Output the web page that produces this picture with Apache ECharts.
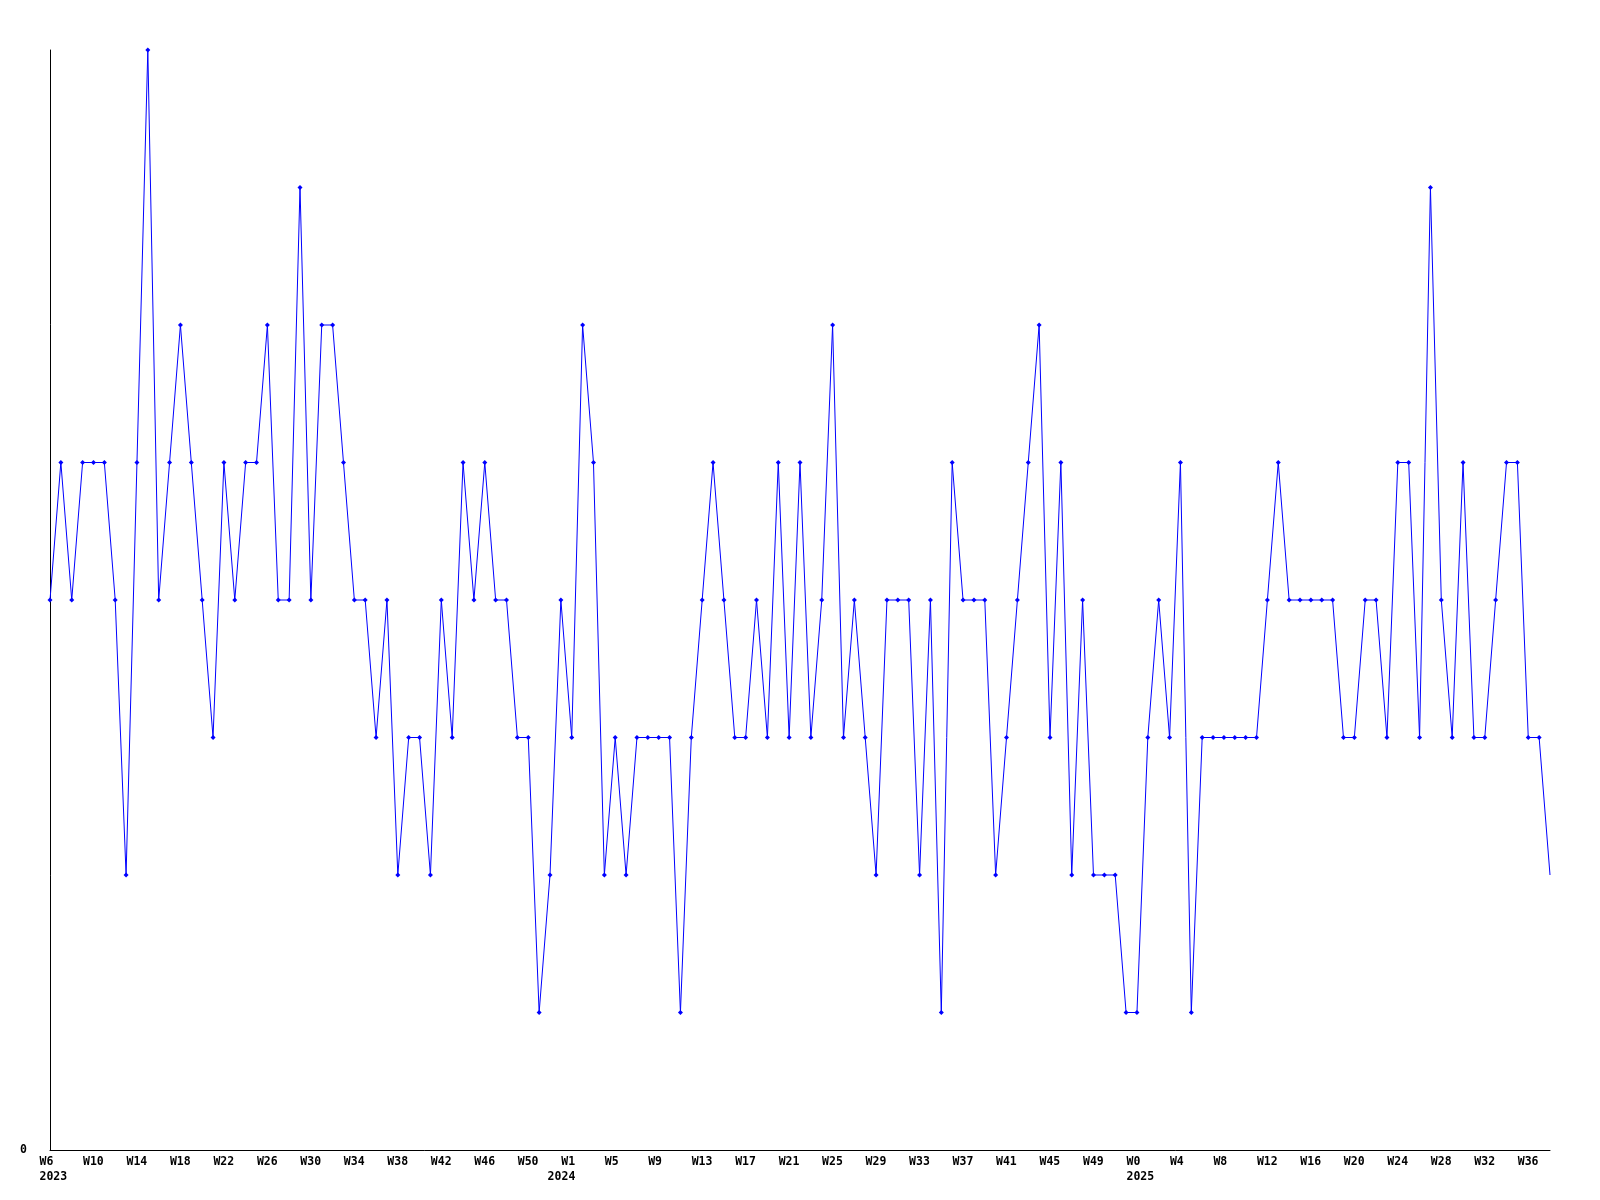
<!DOCTYPE html>
<html>
<head>
<meta charset="utf-8">
<script src="https://cdn.jsdelivr.net/npm/echarts@6/dist/echarts.min.js"></script>
<style>
  html, body { margin: 0; padding: 0; background: #fff; }
  #chart { width: 1600px; height: 1200px; }
</style>
</head>
<body>
<div id="chart"></div>
<script>
// weekly counts, first point = 2023 W6
var values = [
  4, 5, 4, 5, 5, 5, 4, 2, 5, 8,
  4, 5, 6, 5, 4, 3, 5, 4, 5, 5,
  6, 4, 4, 7, 4, 6, 6, 5, 4, 4,
  3, 4, 2, 3, 3, 2, 4, 3, 5, 4,
  5, 4, 4, 3, 3, 1, 2, 4, 3, 6,
  5, 2, 3, 2, 3, 3, 3, 3, 1, 3,
  4, 5, 4, 3, 3, 4, 3, 5, 3, 5,
  3, 4, 6, 3, 4, 3, 2, 4, 4, 4,
  2, 4, 1, 5, 4, 4, 4, 2, 3, 4,
  5, 6, 3, 5, 2, 4, 2, 2, 2, 1,
  1, 3, 4, 3, 5, 1, 3, 3, 3, 3,
  3, 3, 4, 5, 4, 4, 4, 4, 4, 3,
  3, 4, 4, 3, 5, 5, 3, 7, 4, 3,
  5, 3, 3, 4, 5, 5, 3, 3, 2
];

// labels shown every 4th week
var weekTicks = [
  'W6', 'W10', 'W14', 'W18', 'W22', 'W26', 'W30', 'W34', 'W38', 'W42', 'W46', 'W50',
  'W1', 'W5', 'W9', 'W13', 'W17', 'W21', 'W25', 'W29', 'W33', 'W37', 'W41', 'W45', 'W49',
  'W0', 'W4', 'W8', 'W12', 'W16', 'W20', 'W24', 'W28', 'W32', 'W36'
];
var yearTicks = { 0: '2023', 12: '2024', 25: '2025' };

var categories = values.map(function (v, i) { return String(i); });

var font = 'DejaVu Sans Mono';

var seriesData = values.map(function (v, i) {
  // last (current) week is drawn without a marker
  if (i === values.length - 1) return { value: v, symbol: 'none' };
  return v;
});

var labelStyle = {
  width: 21,
  align: 'left',
  fontFamily: font,
  fontSize: 11.5,
  fontWeight: 'bold',
  color: '#000',
  lineHeight: 15.5
};

var myChart = echarts.init(document.getElementById('chart'));

myChart.setOption({
  animation: false,
  backgroundColor: '#ffffff',
  grid: { left: 50, right: 50, top: 50, bottom: 50 },
  xAxis: {
    type: 'category',
    data: categories,
    boundaryGap: false,
    axisLine: { show: true, lineStyle: { color: '#000', width: 1 } },
    axisTick: { show: false },
    splitLine: { show: false },
    axisLabel: {
      interval: 3,
      margin: 4,
      align: 'center',
      formatter: function (value, index) {
        var k = index / 4;
        var s = '{t|' + weekTicks[k] + '}';
        if (yearTicks[k]) {
          // 2024 sits a bit further left than the other years
          s += k === 12 ? '\n{r|' + yearTicks[k] + ' }' : '\n{t|' + yearTicks[k] + '}';
        }
        return s;
      },
      rich: {
        t: labelStyle,
        r: Object.assign({}, labelStyle, { align: 'right' })
      }
    }
  },
  yAxis: {
    type: 'value',
    min: 0,
    max: 8,
    interval: 8,
    axisLine: { show: true, lineStyle: { color: '#000', width: 1 } },
    axisTick: { show: false },
    splitLine: { show: false },
    axisLabel: {
      margin: 23,
      fontFamily: font,
      fontSize: 11.5,
      fontWeight: 'bold',
      color: '#000',
      formatter: function (v) { return v === 0 ? '0' : ''; }
    }
  },
  series: [{
    type: 'line',
    data: seriesData,
    symbol: 'diamond',
    symbolSize: 5,
    showAllSymbol: true,
    lineStyle: { color: '#0000ff', width: 1 },
    itemStyle: { color: '#0000ff' },
    emphasis: { disabled: true }
  }]
});
</script>
</body>
</html>
